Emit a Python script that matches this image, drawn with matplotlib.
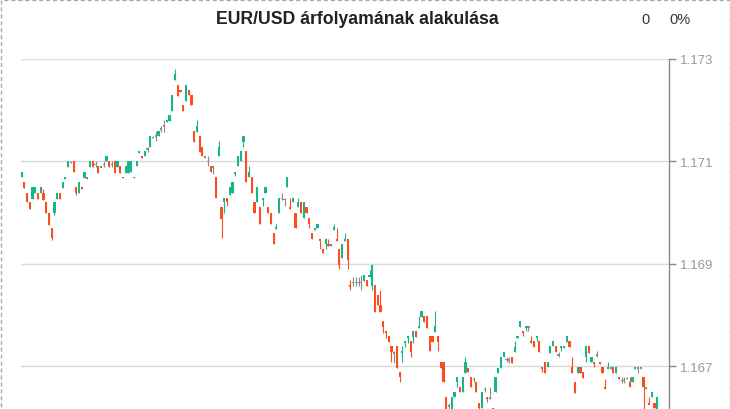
import numpy as np
import matplotlib.pyplot as plt
from matplotlib.patches import Rectangle

plt.rcParams['font.family'] = ['Liberation Sans', 'DejaVu Sans']

title = "EUR/USD árfolyamának alakulása"
change_abs = "0"
change_pct = "0%"
y_ticks = [1.167, 1.169, 1.171, 1.173]

# 1 perces gyertyak (open, close, high, low)
opens = [
    1.17069, 1.17059, 1.17039, 1.17020, 1.17027, 1.17039, 1.17039, 1.17039, 1.17039, 1.17020,
    1.17000, 1.16969, 1.17000, 1.17027, 1.17039, 1.17047, 1.17065, 1.17088, 1.17098, 1.17100,
    1.17049, 1.17039, 1.17049, 1.17067, 1.17067, 1.17088, 1.17100, 1.17094, 1.17090, 1.17088,
    1.17094, 1.17100, 1.17100, 1.17094, 1.17100, 1.17088, 1.17090, 1.17069, 1.17078, 1.17078,
    1.17080, 1.17069, 1.17090, 1.17116, 1.17110, 1.17110, 1.17124, 1.17129, 1.17147, 1.17149,
    1.17149, 1.17163, 1.17169, 1.17176, 1.17178, 1.17198, 1.17259, 1.17249, 1.17239, 1.17210,
    1.17218, 1.17239, 1.17229, 1.17159, 1.17157, 1.17149, 1.17129, 1.17108, 1.17100, 1.17090,
    1.17089, 1.17069, 1.17110, 1.17010, 1.17020, 1.17029, 1.17035, 1.17039, 1.17076, 1.17090,
    1.17100, 1.17137, 1.17120, 1.17069, 1.17069, 1.17020, 1.17020, 1.17010, 1.17025, 1.17039,
    1.17010, 1.17000, 1.16959, 1.16967, 1.17000, 1.17027, 1.17025, 1.17049, 1.17010, 1.17020,
    1.17000, 1.17010, 1.17020, 1.16990, 1.17010, 1.16990, 1.16959, 1.16965, 1.16969, 1.16949,
    1.16929, 1.16939, 1.16939, 1.16937, 1.16965, 1.16949, 1.16929, 1.16912, 1.16945, 1.16949,
    1.16859, 1.16863, 1.16863, 1.16863, 1.16863, 1.16867, 1.16869, 1.16874, 1.16857, 1.16859,
    1.16839, 1.16820, 1.16788, 1.16769, 1.16759, 1.16739, 1.16725, 1.16739, 1.16688, 1.16725,
    1.16745, 1.16755, 1.16749, 1.16757, 1.16769, 1.16774, 1.16796, 1.16798, 1.16798, 1.16759,
    1.16759, 1.16767, 1.16759, 1.16708, 1.16708, 1.16639, 1.16622, 1.16610, 1.16639, 1.16669,
    1.16659, 1.16649, 1.16686, 1.16696, 1.16678, 1.16674, 1.16669, 1.16627, 1.16618, 1.16654,
    1.16639, 1.16637, 1.16618, 1.16649, 1.16686, 1.16696, 1.16718, 1.16713, 1.16712, 1.16718,
    1.16727, 1.16755, 1.16776, 1.16769, 1.16774, 1.16776, 1.16749, 1.16749, 1.16755, 1.16749,
    1.16698, 1.16708, 1.16698, 1.16725, 1.16739, 1.16739, 1.16722, 1.16735, 1.16735, 1.16747,
    1.16749, 1.16698, 1.16669, 1.16686, 1.16698, 1.16688, 1.16718, 1.16739, 1.16708, 1.16708,
    1.16722, 1.16708, 1.16698, 1.16659, 1.16694, 1.16696, 1.16698, 1.16686, 1.16678, 1.16672,
    1.16672, 1.16676, 1.16669, 1.16669, 1.16694, 1.16696, 1.16696, 1.16678, 1.16657, 1.16627,
    1.16639, 1.16627, 1.16610,
]
closes = [
    1.17080, 1.17047, 1.17020, 1.17006, 1.17049, 1.17049, 1.17027, 1.17049, 1.17025, 1.17000,
    1.16976, 1.16951, 1.17020, 1.17039, 1.17027, 1.17059, 1.17069, 1.17100, 1.17098, 1.17080,
    1.17039, 1.17059, 1.17045, 1.17080, 1.17067, 1.17100, 1.17088, 1.17094, 1.17078, 1.17090,
    1.17094, 1.17110, 1.17088, 1.17094, 1.17078, 1.17100, 1.17078, 1.17067, 1.17090, 1.17100,
    1.17100, 1.17067, 1.17100, 1.17120, 1.17106, 1.17120, 1.17124, 1.17149, 1.17147, 1.17149,
    1.17159, 1.17163, 1.17169, 1.17180, 1.17190, 1.17229, 1.17271, 1.17227, 1.17235, 1.17198,
    1.17249, 1.17229, 1.17210, 1.17137, 1.17169, 1.17118, 1.17110, 1.17108, 1.17100, 1.17080,
    1.17089, 1.17029, 1.17129, 1.16988, 1.17029, 1.17020, 1.17049, 1.17059, 1.17080, 1.17110,
    1.17120, 1.17149, 1.17059, 1.17080, 1.17039, 1.17000, 1.17049, 1.16978, 1.17029, 1.17049,
    1.17000, 1.16978, 1.16939, 1.16971, 1.17029, 1.17027, 1.17025, 1.17069, 1.17006, 1.17029,
    1.16969, 1.17020, 1.17000, 1.17020, 1.17000, 1.16978, 1.16949, 1.16969, 1.16978, 1.16945,
    1.16920, 1.16949, 1.16935, 1.16937, 1.16971, 1.16945, 1.16898, 1.16939, 1.16949, 1.16908,
    1.16855, 1.16863, 1.16863, 1.16863, 1.16863, 1.16878, 1.16857, 1.16878, 1.16898, 1.16806,
    1.16820, 1.16806, 1.16776, 1.16765, 1.16747, 1.16727, 1.16725, 1.16696, 1.16678, 1.16729,
    1.16749, 1.16759, 1.16727, 1.16769, 1.16757, 1.16778, 1.16808, 1.16786, 1.16774, 1.16729,
    1.16747, 1.16778, 1.16747, 1.16696, 1.16669, 1.16614, 1.16622, 1.16639, 1.16649, 1.16678,
    1.16649, 1.16678, 1.16708, 1.16688, 1.16659, 1.16674, 1.16649, 1.16618, 1.16649, 1.16654,
    1.16635, 1.16637, 1.16610, 1.16678, 1.16696, 1.16718, 1.16727, 1.16713, 1.16712, 1.16706,
    1.16737, 1.16759, 1.16788, 1.16765, 1.16778, 1.16776, 1.16745, 1.16737, 1.16759, 1.16727,
    1.16694, 1.16686, 1.16708, 1.16739, 1.16749, 1.16727, 1.16722, 1.16739, 1.16739, 1.16759,
    1.16737, 1.16686, 1.16647, 1.16698, 1.16686, 1.16676, 1.16739, 1.16725, 1.16718, 1.16704,
    1.16722, 1.16704, 1.16686, 1.16655, 1.16698, 1.16696, 1.16686, 1.16698, 1.16674, 1.16672,
    1.16672, 1.16676, 1.16659, 1.16678, 1.16698, 1.16696, 1.16696, 1.16659, 1.16657, 1.16625,
    1.16649, 1.16618, 1.16639,
]
highs = [
    1.17080, 1.17059, 1.17039, 1.17020, 1.17049, 1.17049, 1.17039, 1.17049, 1.17045, 1.17020,
    1.17000, 1.16969, 1.17020, 1.17039, 1.17039, 1.17059, 1.17069, 1.17100, 1.17100, 1.17100,
    1.17049, 1.17059, 1.17049, 1.17080, 1.17069, 1.17100, 1.17100, 1.17100, 1.17090, 1.17090,
    1.17100, 1.17110, 1.17100, 1.17100, 1.17100, 1.17100, 1.17090, 1.17069, 1.17090, 1.17100,
    1.17100, 1.17069, 1.17100, 1.17120, 1.17110, 1.17120, 1.17129, 1.17149, 1.17149, 1.17159,
    1.17159, 1.17169, 1.17180, 1.17180, 1.17190, 1.17229, 1.17280, 1.17249, 1.17239, 1.17210,
    1.17249, 1.17239, 1.17229, 1.17159, 1.17180, 1.17149, 1.17129, 1.17110, 1.17110, 1.17090,
    1.17090, 1.17069, 1.17139, 1.17010, 1.17029, 1.17029, 1.17049, 1.17059, 1.17080, 1.17110,
    1.17120, 1.17149, 1.17120, 1.17090, 1.17069, 1.17020, 1.17049, 1.17010, 1.17029, 1.17049,
    1.17010, 1.17000, 1.16959, 1.16978, 1.17029, 1.17039, 1.17029, 1.17069, 1.17029, 1.17029,
    1.17000, 1.17029, 1.17020, 1.17020, 1.17010, 1.16990, 1.16959, 1.16969, 1.16978, 1.16949,
    1.16929, 1.16949, 1.16949, 1.16939, 1.16978, 1.16969, 1.16929, 1.16939, 1.16959, 1.16949,
    1.16869, 1.16874, 1.16874, 1.16874, 1.16878, 1.16878, 1.16869, 1.16888, 1.16898, 1.16859,
    1.16839, 1.16849, 1.16788, 1.16769, 1.16759, 1.16739, 1.16729, 1.16739, 1.16688, 1.16739,
    1.16749, 1.16759, 1.16749, 1.16769, 1.16769, 1.16798, 1.16808, 1.16798, 1.16798, 1.16759,
    1.16759, 1.16808, 1.16759, 1.16708, 1.16708, 1.16639, 1.16627, 1.16639, 1.16649, 1.16678,
    1.16659, 1.16678, 1.16718, 1.16696, 1.16678, 1.16678, 1.16669, 1.16627, 1.16649, 1.16659,
    1.16639, 1.16659, 1.16618, 1.16678, 1.16696, 1.16718, 1.16727, 1.16718, 1.16718, 1.16718,
    1.16749, 1.16759, 1.16788, 1.16769, 1.16778, 1.16778, 1.16759, 1.16749, 1.16759, 1.16749,
    1.16698, 1.16708, 1.16708, 1.16739, 1.16749, 1.16739, 1.16727, 1.16739, 1.16739, 1.16759,
    1.16749, 1.16718, 1.16669, 1.16698, 1.16698, 1.16688, 1.16739, 1.16739, 1.16718, 1.16708,
    1.16729, 1.16708, 1.16698, 1.16674, 1.16708, 1.16698, 1.16698, 1.16698, 1.16678, 1.16678,
    1.16678, 1.16678, 1.16678, 1.16678, 1.16698, 1.16698, 1.16698, 1.16678, 1.16659, 1.16639,
    1.16649, 1.16627, 1.16639,
]
lows = [
    1.17069, 1.17047, 1.17020, 1.17006, 1.17027, 1.17039, 1.17027, 1.17039, 1.17025, 1.17000,
    1.16976, 1.16947, 1.16996, 1.17027, 1.17027, 1.17047, 1.17065, 1.17088, 1.17096, 1.17080,
    1.17035, 1.17039, 1.17045, 1.17067, 1.17065, 1.17088, 1.17088, 1.17088, 1.17078, 1.17088,
    1.17088, 1.17100, 1.17088, 1.17088, 1.17078, 1.17088, 1.17078, 1.17067, 1.17078, 1.17078,
    1.17080, 1.17067, 1.17090, 1.17116, 1.17106, 1.17110, 1.17118, 1.17129, 1.17145, 1.17139,
    1.17149, 1.17157, 1.17157, 1.17176, 1.17178, 1.17198, 1.17259, 1.17227, 1.17235, 1.17198,
    1.17218, 1.17229, 1.17210, 1.17137, 1.17157, 1.17118, 1.17110, 1.17106, 1.17090, 1.17080,
    1.17076, 1.17029, 1.17110, 1.16951, 1.17000, 1.17012, 1.17035, 1.17039, 1.17071, 1.17090,
    1.17100, 1.17129, 1.17059, 1.17069, 1.17039, 1.17000, 1.17020, 1.16978, 1.17012, 1.17039,
    1.17000, 1.16978, 1.16939, 1.16967, 1.17000, 1.17025, 1.17012, 1.17049, 1.17006, 1.17020,
    1.16969, 1.17010, 1.17000, 1.16990, 1.17000, 1.16969, 1.16949, 1.16965, 1.16969, 1.16929,
    1.16920, 1.16929, 1.16935, 1.16935, 1.16965, 1.16945, 1.16890, 1.16912, 1.16945, 1.16890,
    1.16849, 1.16857, 1.16857, 1.16857, 1.16849, 1.16867, 1.16857, 1.16874, 1.16849, 1.16806,
    1.16820, 1.16806, 1.16765, 1.16755, 1.16747, 1.16708, 1.16706, 1.16696, 1.16669, 1.16708,
    1.16737, 1.16745, 1.16718, 1.16745, 1.16757, 1.16774, 1.16796, 1.16786, 1.16774, 1.16729,
    1.16747, 1.16767, 1.16729, 1.16696, 1.16669, 1.16600, 1.16610, 1.16600, 1.16639, 1.16659,
    1.16649, 1.16649, 1.16686, 1.16688, 1.16659, 1.16669, 1.16649, 1.16600, 1.16618, 1.16649,
    1.16630, 1.16635, 1.16600, 1.16649, 1.16686, 1.16696, 1.16718, 1.16708, 1.16706, 1.16706,
    1.16727, 1.16755, 1.16776, 1.16759, 1.16769, 1.16769, 1.16745, 1.16737, 1.16749, 1.16727,
    1.16688, 1.16686, 1.16698, 1.16725, 1.16739, 1.16727, 1.16718, 1.16729, 1.16735, 1.16747,
    1.16737, 1.16686, 1.16647, 1.16686, 1.16686, 1.16676, 1.16708, 1.16725, 1.16708, 1.16698,
    1.16718, 1.16704, 1.16686, 1.16655, 1.16694, 1.16694, 1.16686, 1.16686, 1.16674, 1.16667,
    1.16667, 1.16674, 1.16659, 1.16669, 1.16694, 1.16686, 1.16694, 1.16600, 1.16655, 1.16625,
    1.16639, 1.16618, 1.16600,
]

o = np.array(opens)
c = np.array(closes)
h = np.array(highs)
l = np.array(lows)
x = np.arange(len(o))

up, down, flat = "#17b58e", "#fb4d1d", "#8a8a8a"
colors = np.where(c > o, up, np.where(c < o, down, flat))

fig = plt.figure(figsize=(7.3, 4.1), dpi=100)
ax = fig.add_axes([21 / 730, 0, 648 / 730, 350 / 410])

# kanocok + testek
ax.vlines(x, l, h, colors=colors, linewidth=0.8, zorder=2)
body_h = np.maximum(np.abs(c - o), 0.00003)
body_bot = (o + c) / 2 - body_h / 2
ax.bar(x, body_h, bottom=body_bot, width=0.8, color=colors, linewidth=0, zorder=3)

ax.set_xlim(-0.2, 236.3)
ax.set_ylim(1.16616, 1.173)
ax.set_yticks(y_ticks)
ax.set_yticklabels(["{:.3f}".format(t) for t in y_ticks])
ax.set_xticks([])
ax.yaxis.tick_right()
ax.yaxis.grid(True, color="#d9d9d9", linewidth=1)
ax.set_axisbelow(True)
for s in ["left", "top", "bottom"]:
    ax.spines[s].set_visible(False)
ax.spines["right"].set_color("#888888")
ax.spines["right"].set_linewidth(1)
ax.tick_params(axis="y", direction="out", length=5, width=1, color="#888888",
               labelcolor="#999999", labelsize=9.5, pad=3)

fig.text(357 / 730, 1 - 20 / 410, title, ha="center", va="center",
         fontsize=12.7, fontweight="bold", color="#222222")
fig.text(645 / 730, 1 - 20 / 410, change_abs, ha="center", va="center",
         fontsize=10.5, color="#333333")
fig.text(680 / 730, 1 - 20 / 410, change_pct, ha="center", va="center",
         fontsize=10.5, color="#333333")

fig.add_artist(Rectangle((0.5 / 730, -0.05), 729 / 730, 1.05 - 0.5 / 410,
                         transform=fig.transFigure, fill=False,
                         linestyle=(0, (3, 2)), edgecolor="#aaaaaa", linewidth=1))

fig.savefig("out.png", dpi=100)
